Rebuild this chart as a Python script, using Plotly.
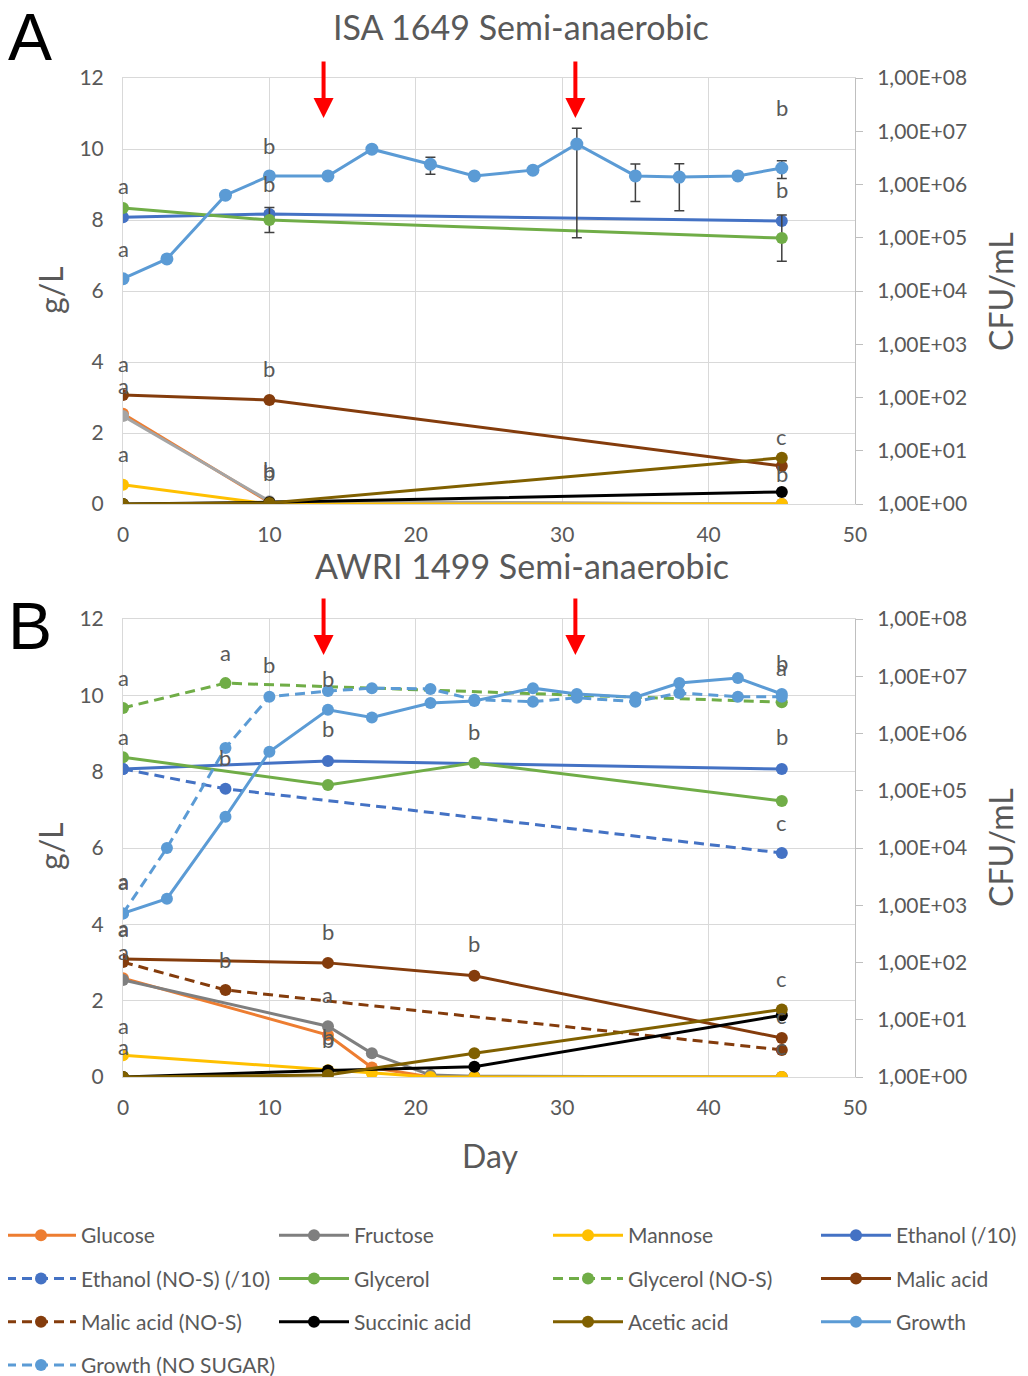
import plotly.graph_objects as go

# page is 1028x1376; the html body adds an 8px margin, so figure coords = page coords - 8
OFF = 8
W, H = 1028, 1376

# ---------------- Panel A data (ISA 1649) ----------------
a_days3 = [0, 10, 45]
a_glucose = [2.54, 0.05, 0.0]
a_fructose = [2.48, 0.08, 0.0]
a_mannose = [0.54, 0.0, 0.0]
a_ethanol = [8.08, 8.17, 7.97]
a_ethanol_err = [0.05, 0.08, 0.06]
a_glycerol = [8.34, 8.00, 7.49]
a_glycerol_err = [0.05, 0.35, 0.65]
a_malic = [3.07, 2.93, 1.07]
a_succinic = [0.0, 0.05, 0.34]
a_acetic = [0.0, 0.03, 1.30]
a_growth_days = [0, 3, 7, 10, 14, 17, 21, 24, 28, 31, 35, 38, 42, 45]
a_growth = [1.7e4, 4.0e4, 6.3e5, 1.45e6, 1.45e6, 4.6e6, 2.4e6, 1.45e6, 1.86e6, 5.75e6, 1.45e6, 1.38e6, 1.45e6, 2.04e6]
a_growth_err = [0, 0, 0, 0, 0, 4.0e5, 8.5e5, 0, 0, 5.65e6, 9.7e5, 1.06e6, 0, 7.5e5]

# ---------------- Panel B data (AWRI 1499) ----------------
b_sugar_days = [0, 14, 17, 21, 24, 45]
b_glucose = [2.59, 1.10, 0.25, 0.0, 0.0, 0.0]
b_fructose = [2.54, 1.33, 0.62, 0.05, 0.02, 0.0]
b_mannose = [0.57, 0.18, 0.10, 0.0, 0.0, 0.0]
b_days_main = [0, 14, 45]
b_ethanol = [8.07, 8.28, 8.07]
b_days_nos = [0, 7, 45]
b_ethanol_nos = [8.07, 7.55, 5.87]
b_days_4 = [0, 14, 24, 45]
b_glycerol = [8.38, 7.65, 8.23, 7.23]
b_glycerol_nos = [9.67, 10.32, 9.82]
b_malic = [3.09, 2.99, 2.65, 1.02]
b_malic_nos = [3.01, 2.28, 0.71]
b_succinic = [0.0, 0.17, 0.27, 1.62]
b_acetic = [0.0, 0.05, 0.62, 1.77]
b_growth_days = [0, 3, 7, 10, 14, 17, 21, 24, 28, 31, 35, 38, 42, 45]
b_growth = [7.2e2, 1.3e3, 3.5e4, 4.8e5, 2.6e6, 1.9e6, 3.4e6, 3.7e6, 6.2e6, 4.9e6, 4.3e6, 7.6e6, 9.3e6, 4.9e6]
b_growth_nosugar = [7.2e2, 1.0e4, 5.6e5, 4.4e6, 5.5e6, 6.2e6, 6.0e6, 3.9e6, 3.6e6, 4.2e6, 3.6e6, 5.1e6, 4.4e6, 4.4e6]

# significance letters: (day, g/L level, letter)
a_letter_days = [0, 0, 0, 0, 0, 10, 10, 10, 10, 10, 45, 45, 45, 45]
a_letter_lvls = [8.96, 7.21, 3.97, 3.35, 1.41, 10.11, 9.04, 3.83, 0.96, 0.90, 11.18, 8.87, 1.89, 0.87]
a_letter_txt = ["a", "a", "a", "a", "a", "b", "b", "b", "b", "b", "b", "b", "c", "b"]
b_letter_days = [0, 0, 0, 0, 0, 0, 0, 0, 0, 7, 7, 7, 10, 14, 14, 14, 14, 14, 14, 24, 24, 45, 45, 45, 45, 45, 45, 45]
b_letter_lvls = [10.48, 8.91, 5.13, 5.16, 3.88, 3.91, 3.30, 1.36, 0.81, 11.13, 8.38, 3.09, 10.82,
                 10.45, 9.12, 3.80, 2.15, 1.05, 0.97, 9.04, 3.51, 10.87, 10.72, 8.91, 6.68, 2.57, 1.60, 0.79]
b_letter_txt = ["a", "a", "a", "a", "a", "a", "a", "a", "a", "a", "b", "b", "b",
                "b", "b", "b", "a", "b", "b", "b", "b", "b", "a", "b", "c", "c", "c", "c"]

# sulphite addition arrows (day)
arrow_days = [13.7, 30.9]

# ---------------- styling ----------------
FONT = "Lato"
GREY = "#595959"
GRID = "#D9D9D9"
C = dict(glucose="#ED7D31", fructoseA="#A5A5A5", fructose="#7F7F7F", mannose="#FFC000",
         ethanol="#4472C4", glycerol="#70AD47", malic="#843C0C", succinic="#000000",
         acetic="#806000", growth="#5B9BD5")
DASH = "10px,6px"
LW = 3
MS = 12


def fx(px):
    return (px - OFF) / W


def fy(py):
    return 1 - (py - OFF) / H


x0, x1 = fx(123), fx(855)
A_top, A_bot = fy(78), fy(504)
B_top, B_bot = fy(619), fy(1077)

fig = go.Figure()


def add(x, y, name, color, xa, ya, dash=None, legend=None, show=False, err=None, ms=MS):
    kw = {}
    if err is not None:
        kw["error_y"] = dict(type="data", array=err, visible=True, color="#404040", thickness=1.5, width=5)
    fig.add_trace(go.Scatter(
        x=x, y=y, name=name, mode="lines+markers",
        line=dict(color=color, width=LW, dash=dash if dash else "solid"),
        marker=dict(color=color, size=ms),
        xaxis=xa, yaxis=ya, showlegend=show, legend=legend, legendgroup=name, **kw))


# Panel A traces
add(a_days3, a_glucose, "Glucose", C["glucose"], "x", "y")
add(a_days3, a_fructose, "Fructose", C["fructoseA"], "x", "y")
add(a_days3, a_mannose, "Mannose", C["mannose"], "x", "y")
add(a_days3, a_ethanol, "Ethanol (/10)", C["ethanol"], "x", "y", err=a_ethanol_err)
add(a_days3, a_glycerol, "Glycerol", C["glycerol"], "x", "y", err=a_glycerol_err)
add(a_days3, a_malic, "Malic acid", C["malic"], "x", "y")
add(a_days3, a_succinic, "Succinic acid", C["succinic"], "x", "y")
add(a_days3, a_acetic, "Acetic acid", C["acetic"], "x", "y")
add(a_growth_days, a_growth, "Growth", C["growth"], "x", "y2", err=a_growth_err, ms=13)

# Panel B traces (these carry the legend)
add(b_sugar_days, b_glucose, "Glucose", C["glucose"], "x2", "y3", legend="legend", show=True)
add(b_sugar_days, b_fructose, "Fructose", C["fructose"], "x2", "y3", legend="legend2", show=True)
add(b_sugar_days, b_mannose, "Mannose", C["mannose"], "x2", "y3", legend="legend3", show=True)
add(b_days_main, b_ethanol, "Ethanol (/10)", C["ethanol"], "x2", "y3", legend="legend4", show=True)
add(b_days_nos, b_ethanol_nos, "Ethanol (NO-S) (/10)", C["ethanol"], "x2", "y3", dash=DASH, legend="legend", show=True)
add(b_days_4, b_glycerol, "Glycerol", C["glycerol"], "x2", "y3", legend="legend2", show=True)
add(b_days_nos, b_glycerol_nos, "Glycerol (NO-S)", C["glycerol"], "x2", "y3", dash=DASH, legend="legend3", show=True)
add(b_days_4, b_malic, "Malic acid", C["malic"], "x2", "y3", legend="legend4", show=True)
add(b_days_nos, b_malic_nos, "Malic acid (NO-S)", C["malic"], "x2", "y3", dash=DASH, legend="legend", show=True)
add(b_days_4, b_succinic, "Succinic acid", C["succinic"], "x2", "y3", legend="legend2", show=True)
add(b_days_4, b_acetic, "Acetic acid", C["acetic"], "x2", "y3", legend="legend3", show=True)
add(b_growth_days, b_growth, "Growth", C["growth"], "x2", "y4", legend="legend4", show=True)
add(b_growth_days, b_growth_nosugar, "Growth (NO SUGAR)", C["growth"], "x2", "y4", dash=DASH, legend="legend", show=True)

tickfont = dict(family=FONT, size=21, color=GREY)
right_vals = [10 ** k for k in range(0, 9)]
right_text = ["1,00E+0%d" % k for k in range(0, 9)]


def xaxis(anchor):
    return dict(domain=[x0, x1], anchor=anchor, range=[0, 50], tick0=0, dtick=10,
                showgrid=True, gridcolor=GRID, gridwidth=1, zeroline=False,
                showline=True, linecolor=GRID, linewidth=1, mirror=True, automargin=False,
                ticks="", tickfont=tickfont, ticklabelstandoff=12)


def yleft(anchor, top, bot):
    return dict(domain=[bot, top], anchor=anchor, range=[0, 12], dtick=2, tick0=0,
                showgrid=True, gridcolor=GRID, gridwidth=1, zeroline=False, automargin=False,
                showline=True, linecolor=GRID, ticks="", tickfont=tickfont, ticklabelstandoff=14)


def yright(anchor, overlay):
    return dict(anchor=anchor, overlaying=overlay, side="right", type="log", range=[0, 8],
                tickmode="array", tickvals=right_vals, ticktext=right_text, automargin=False,
                showgrid=False, zeroline=False, showline=True, linecolor="#BFBFBF", linewidth=1,
                ticks="outside", ticklen=7, tickcolor="#BFBFBF", tickfont=tickfont, ticklabelstandoff=10)


LETTER_FONT = dict(family=FONT, size=22, color=GREY)
ann = []
for d, lv, t in zip(a_letter_days, a_letter_lvls, a_letter_txt):
    ann.append(dict(x=d, y=lv, xref="x", yref="y", text=t, showarrow=False, font=LETTER_FONT))
for d, lv, t in zip(b_letter_days, b_letter_lvls, b_letter_txt):
    ann.append(dict(x=d, y=lv, xref="x2", yref="y3", text=t, showarrow=False, font=LETTER_FONT))

for d in arrow_days:
    ann.append(dict(x=d, y=10.87, xref="x", yref="y", ax=0, ay=-58, showarrow=True, text="",
                    arrowhead=2, arrowsize=1, arrowwidth=4, arrowcolor="#FF0000"))
    ann.append(dict(x=d, y=11.06, xref="x2", yref="y3", ax=0, ay=-58, showarrow=True, text="",
                    arrowhead=2, arrowsize=1, arrowwidth=4, arrowcolor="#FF0000"))


def ptext(px, py, text, size, color=GREY, angle=0, family=FONT):
    return dict(x=fx(px), y=fy(py), xref="paper", yref="paper", text=text, showarrow=False,
                textangle=angle, font=dict(family=family, size=size, color=color),
                xanchor="center", yanchor="middle")


ann += [
    ptext(521, 26, "ISA 1649 Semi-anaerobic", 34),
    ptext(522, 566, "AWRI 1499 Semi-anaerobic", 34),
    ptext(30, 37, "A", 66, color="#000000", family="Liberation Sans"),
    ptext(30, 626, "B", 66, color="#000000", family="Liberation Sans"),
    ptext(50, 290, "g/L", 32, angle=-90),
    ptext(50, 846, "g/L", 32, angle=-90),
    ptext(1000, 292, "CFU/mL", 32, angle=-90),
    ptext(1000, 848, "CFU/mL", 32, angle=-90),
    ptext(490, 1155, "Day", 32),
]

ITEMW = 70
legfont = dict(family=FONT, size=21, color=GREY)
leg_common = dict(orientation="v", xanchor="left", yanchor="top", y=fy(1215),
                  font=legfont, bgcolor="rgba(0,0,0,0)", traceorder="grouped",
                  tracegroupgap=13, itemwidth=ITEMW)
TXT_OFF = ITEMW + 11
layout = dict(
    width=W, height=H, margin=dict(l=0, r=0, t=0, b=0, autoexpand=False),
    paper_bgcolor="white", plot_bgcolor="white",
    font=dict(family=FONT, color=GREY),
    xaxis=xaxis("y"),
    yaxis=yleft("x", A_top, A_bot),
    yaxis2=yright("x", "y"),
    xaxis2=xaxis("y3"),
    yaxis3=yleft("x2", B_top, B_bot),
    yaxis4=yright("x2", "y3"),
    annotations=ann,
    legend=dict(x=fx(82 - TXT_OFF), **leg_common),
    legend2=dict(x=fx(355 - TXT_OFF), **leg_common),
    legend3=dict(x=fx(629 - TXT_OFF), **leg_common),
    legend4=dict(x=fx(897 - TXT_OFF), **leg_common),
    showlegend=True,
)
fig.update_layout(**layout)

fig.write_html("out.html")
